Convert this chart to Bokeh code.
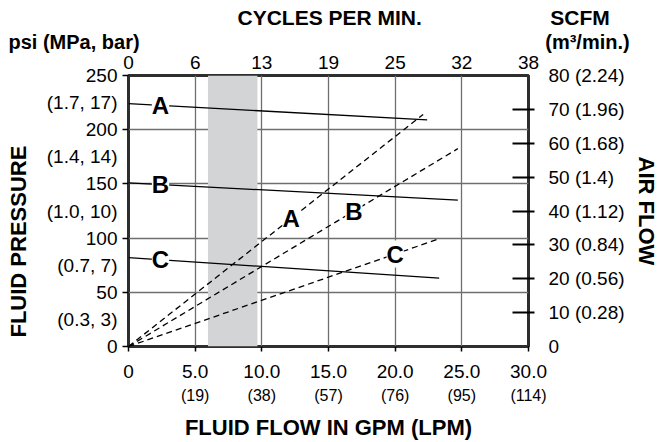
import math
import numpy as np
from bokeh.plotting import figure
from bokeh.models import (Range1d, LinearAxis, FixedTicker, BoxAnnotation, Title,
                          LabelSet, ColumnDataSource)
from bokeh.core.properties import value
from bokeh.embed import file_html
from bokeh.resources import INLINE

# ---------------- data ----------------
gpm_ticks = [0, 5, 10, 15, 20, 25, 30]
gpm_labels = ["0", "5.0", "10.0", "15.0", "20.0", "25.0", "30.0"]
lpm_labels = ["", "(19)", "(38)", "(57)", "(76)", "(95)", "(114)"]
cpm_labels = ["0", "6", "13", "19", "25", "32", "38"]

psi_ticks = [0, 50, 100, 150, 200, 250]
psi_labels = ["0", "50", "100", "150", "200", "250"]
mpa_bar_ticks = [25, 75, 125, 175, 225]
mpa_bar_labels = ["(0.3, 3)", "(0.7, 7)", "(1.0, 10)", "(1.4, 14)", "(1.7, 17)"]

scfm_ticks = [0, 10, 20, 30, 40, 50, 60, 70, 80]
scfm_labels = ["0", "10 (0.28)", "20 (0.56)", "30 (0.84)", "40 (1.12)",
               "50 (1.4)", "60 (1.68)", "70 (1.96)", "80 (2.24)"]

curves = ["A", "B", "C"]
# fluid pressure curves (solid), psi vs GPM
pressure_gpm = [[0, 22.4], [0, 24.7], [0, 23.3]]
pressure_psi = [[224, 209], [151, 135], [82, 63]]
# air consumption curves (dashed), SCFM vs GPM
air_gpm = [[0, 22.1], [0, 24.7], [0, 23.3]]
air_scfm = [[0, 68.5], [0, 58.4], [0, 31.8]]
# where the curve letters sit along each curve (GPM)
pressure_label_gpm = [2.4, 2.4, 2.4]
air_label_gpm = [12.2, 16.9, 20.0]
# shaded recommended range (GPM)
shaded_gpm = [5.96, 9.67]

FONT = "Liberation Sans"
W, H = 661, 442
FL, FT, FR, FB = 128, 75, 533, 346   # frame edges on the page
NB = "\u00a0"

p = figure(width=W, height=H, output_backend="svg", toolbar_location=None,
           x_range=Range1d(0, 30), y_range=Range1d(0, 250),
           min_border_left=FL, min_border_right=W - FR,
           min_border_top=FT, min_border_bottom=H - FB)
p.extra_y_ranges = {"air": Range1d(0, 80)}
p.background_fill_color = "white"
p.border_fill_color = "white"
p.outline_line_color = "#2e2e2e"
p.outline_line_width = 3
p.outline_line_alpha = 1

# grid
p.xgrid.ticker = FixedTicker(ticks=gpm_ticks[1:-1])
p.ygrid.ticker = FixedTicker(ticks=psi_ticks[1:-1])
for g in (p.xgrid, p.ygrid):
    g.grid_line_color = "#6f6f6f"
    g.grid_line_width = 1.3
    g.grid_line_alpha = 1

# shaded band
band = BoxAnnotation(left=shaded_gpm[0], right=shaded_gpm[1], fill_color="#d3d4d6",
                     fill_alpha=1, line_color=None, level="underlay")
p.add_layout(band)

# curves
for gx_, gy_ in zip(pressure_gpm, pressure_psi):
    p.line(gx_, gy_, line_color="black", line_width=1.3)
for gx_, gy_ in zip(air_gpm, air_scfm):
    p.line(gx_, gy_, line_color="black", line_width=1.3, line_dash="6 4",
           y_range_name="air")

# letters on curves
pl_y = [float(np.interp(x, gx_, gy_)) for x, gx_, gy_ in zip(pressure_label_gpm, pressure_gpm, pressure_psi)]
al_y = [float(np.interp(x, gx_, gy_)) for x, gx_, gy_ in zip(air_label_gpm, air_gpm, air_scfm)]
src_p = ColumnDataSource(dict(x=pressure_label_gpm, y=pl_y, t=curves))
src_a = ColumnDataSource(dict(x=air_label_gpm, y=al_y, t=curves))
for src, rng in ((src_p, "default"), (src_a, "air")):
    ls = LabelSet(x="x", y="y", text="t", source=src, y_range_name=rng,
                  text_font=value(FONT), text_font_style="bold",
                  text_font_size="24px", text_color="black",
                  text_align="center", text_baseline="middle",
                  background_fill_color="white", background_fill_alpha=1)
    p.add_layout(ls)

# ---------------- axes ----------------
def style_axis(ax, size="19px"):
    ax.major_label_text_font = FONT
    ax.major_label_text_font_size = size
    ax.major_label_text_color = "black"
    ax.axis_line_color = None
    ax.axis_label_text_font = FONT
    ax.axis_label_text_font_style = "bold"
    ax.axis_label_text_font_size = "22px"
    ax.axis_label_text_color = "black"

# left
yax = p.yaxis[0]
yax.ticker = FixedTicker(ticks=sorted(psi_ticks + mpa_bar_ticks), minor_ticks=psi_ticks)
ov = {t: l for t, l in zip(psi_ticks, psi_labels)}
ov.update({t: l for t, l in zip(mpa_bar_ticks, mpa_bar_labels)})
yax.major_label_overrides = ov
yax.major_tick_out = 0
yax.major_tick_in = 0
yax.minor_tick_out = 6
yax.minor_tick_in = 0
yax.minor_tick_line_color = "black"
yax.minor_tick_line_width = 1.5
yax.major_label_standoff = 5
style_axis(yax)
yax.axis_label = "FLUID PRESSURE" + NB * 10
yax.axis_label_standoff = 13

# bottom (GPM)
xax = p.xaxis[0]
xax.ticker = FixedTicker(ticks=gpm_ticks)
xax.major_label_overrides = dict(zip(gpm_ticks, gpm_labels))
xax.major_tick_out = 5
xax.major_tick_in = 0
xax.major_tick_line_color = "black"
xax.major_tick_line_width = 1.5
xax.minor_tick_line_color = None
xax.major_label_standoff = 13
style_axis(xax)

# bottom (LPM) + title
lpm_ax = LinearAxis(ticker=FixedTicker(ticks=gpm_ticks),
                    major_label_overrides=dict(zip(gpm_ticks, lpm_labels)),
                    major_tick_out=0, major_tick_in=0, minor_tick_line_color=None,
                    major_tick_line_color=None, major_label_standoff=6)
style_axis(lpm_ax, "16px")
lpm_ax.axis_label = "FLUID FLOW IN GPM (LPM)"
lpm_ax.axis_label_standoff = 8
p.add_layout(lpm_ax, "below")

# top (cycles per min)
top_ax = LinearAxis(ticker=FixedTicker(ticks=gpm_ticks),
                    major_label_overrides=dict(zip(gpm_ticks, cpm_labels)),
                    major_tick_out=0, major_tick_in=0, minor_tick_line_color=None,
                    major_tick_line_color=None, major_label_standoff=7)
style_axis(top_ax)
p.add_layout(top_ax, "above")

# right (air flow)
r_ax = LinearAxis(y_range_name="air",
                  ticker=FixedTicker(ticks=scfm_ticks, minor_ticks=scfm_ticks[1:-1]),
                  major_label_overrides=dict(zip(scfm_ticks, scfm_labels)),
                  major_tick_out=0, major_tick_in=0, major_tick_line_color=None,
                  minor_tick_in=16, minor_tick_out=6, minor_tick_line_color="black",
                  minor_tick_line_width=2, major_label_standoff=14)
style_axis(r_ax)
r_ax.axis_label = "AIR FLOW"
r_ax.axis_label_standoff = 6
p.add_layout(r_ax, "right")

# ---------------- header rows (titles above the top axis) ----------------
row1 = Title(text="psi (MPa, bar)" + NB * 73 + "(m\u00b3/min.)", align="left",
             offset=13 - (FL + 5), standoff=0, vertical_align="bottom",
             text_font=FONT, text_font_style="bold", text_font_size="20px",
             text_color="black")
row2 = Title(text="CYCLES PER MIN." + NB * 22 + "SCFM", align="left",
             offset=242 - (FL + 5), standoff=0, vertical_align="bottom",
             text_font=FONT, text_font_style="bold", text_font_size="21px",
             text_color="black")
p.add_layout(row1, "above")
p.add_layout(row2, "above")

open("out.html", "w").write(file_html(p, INLINE))
